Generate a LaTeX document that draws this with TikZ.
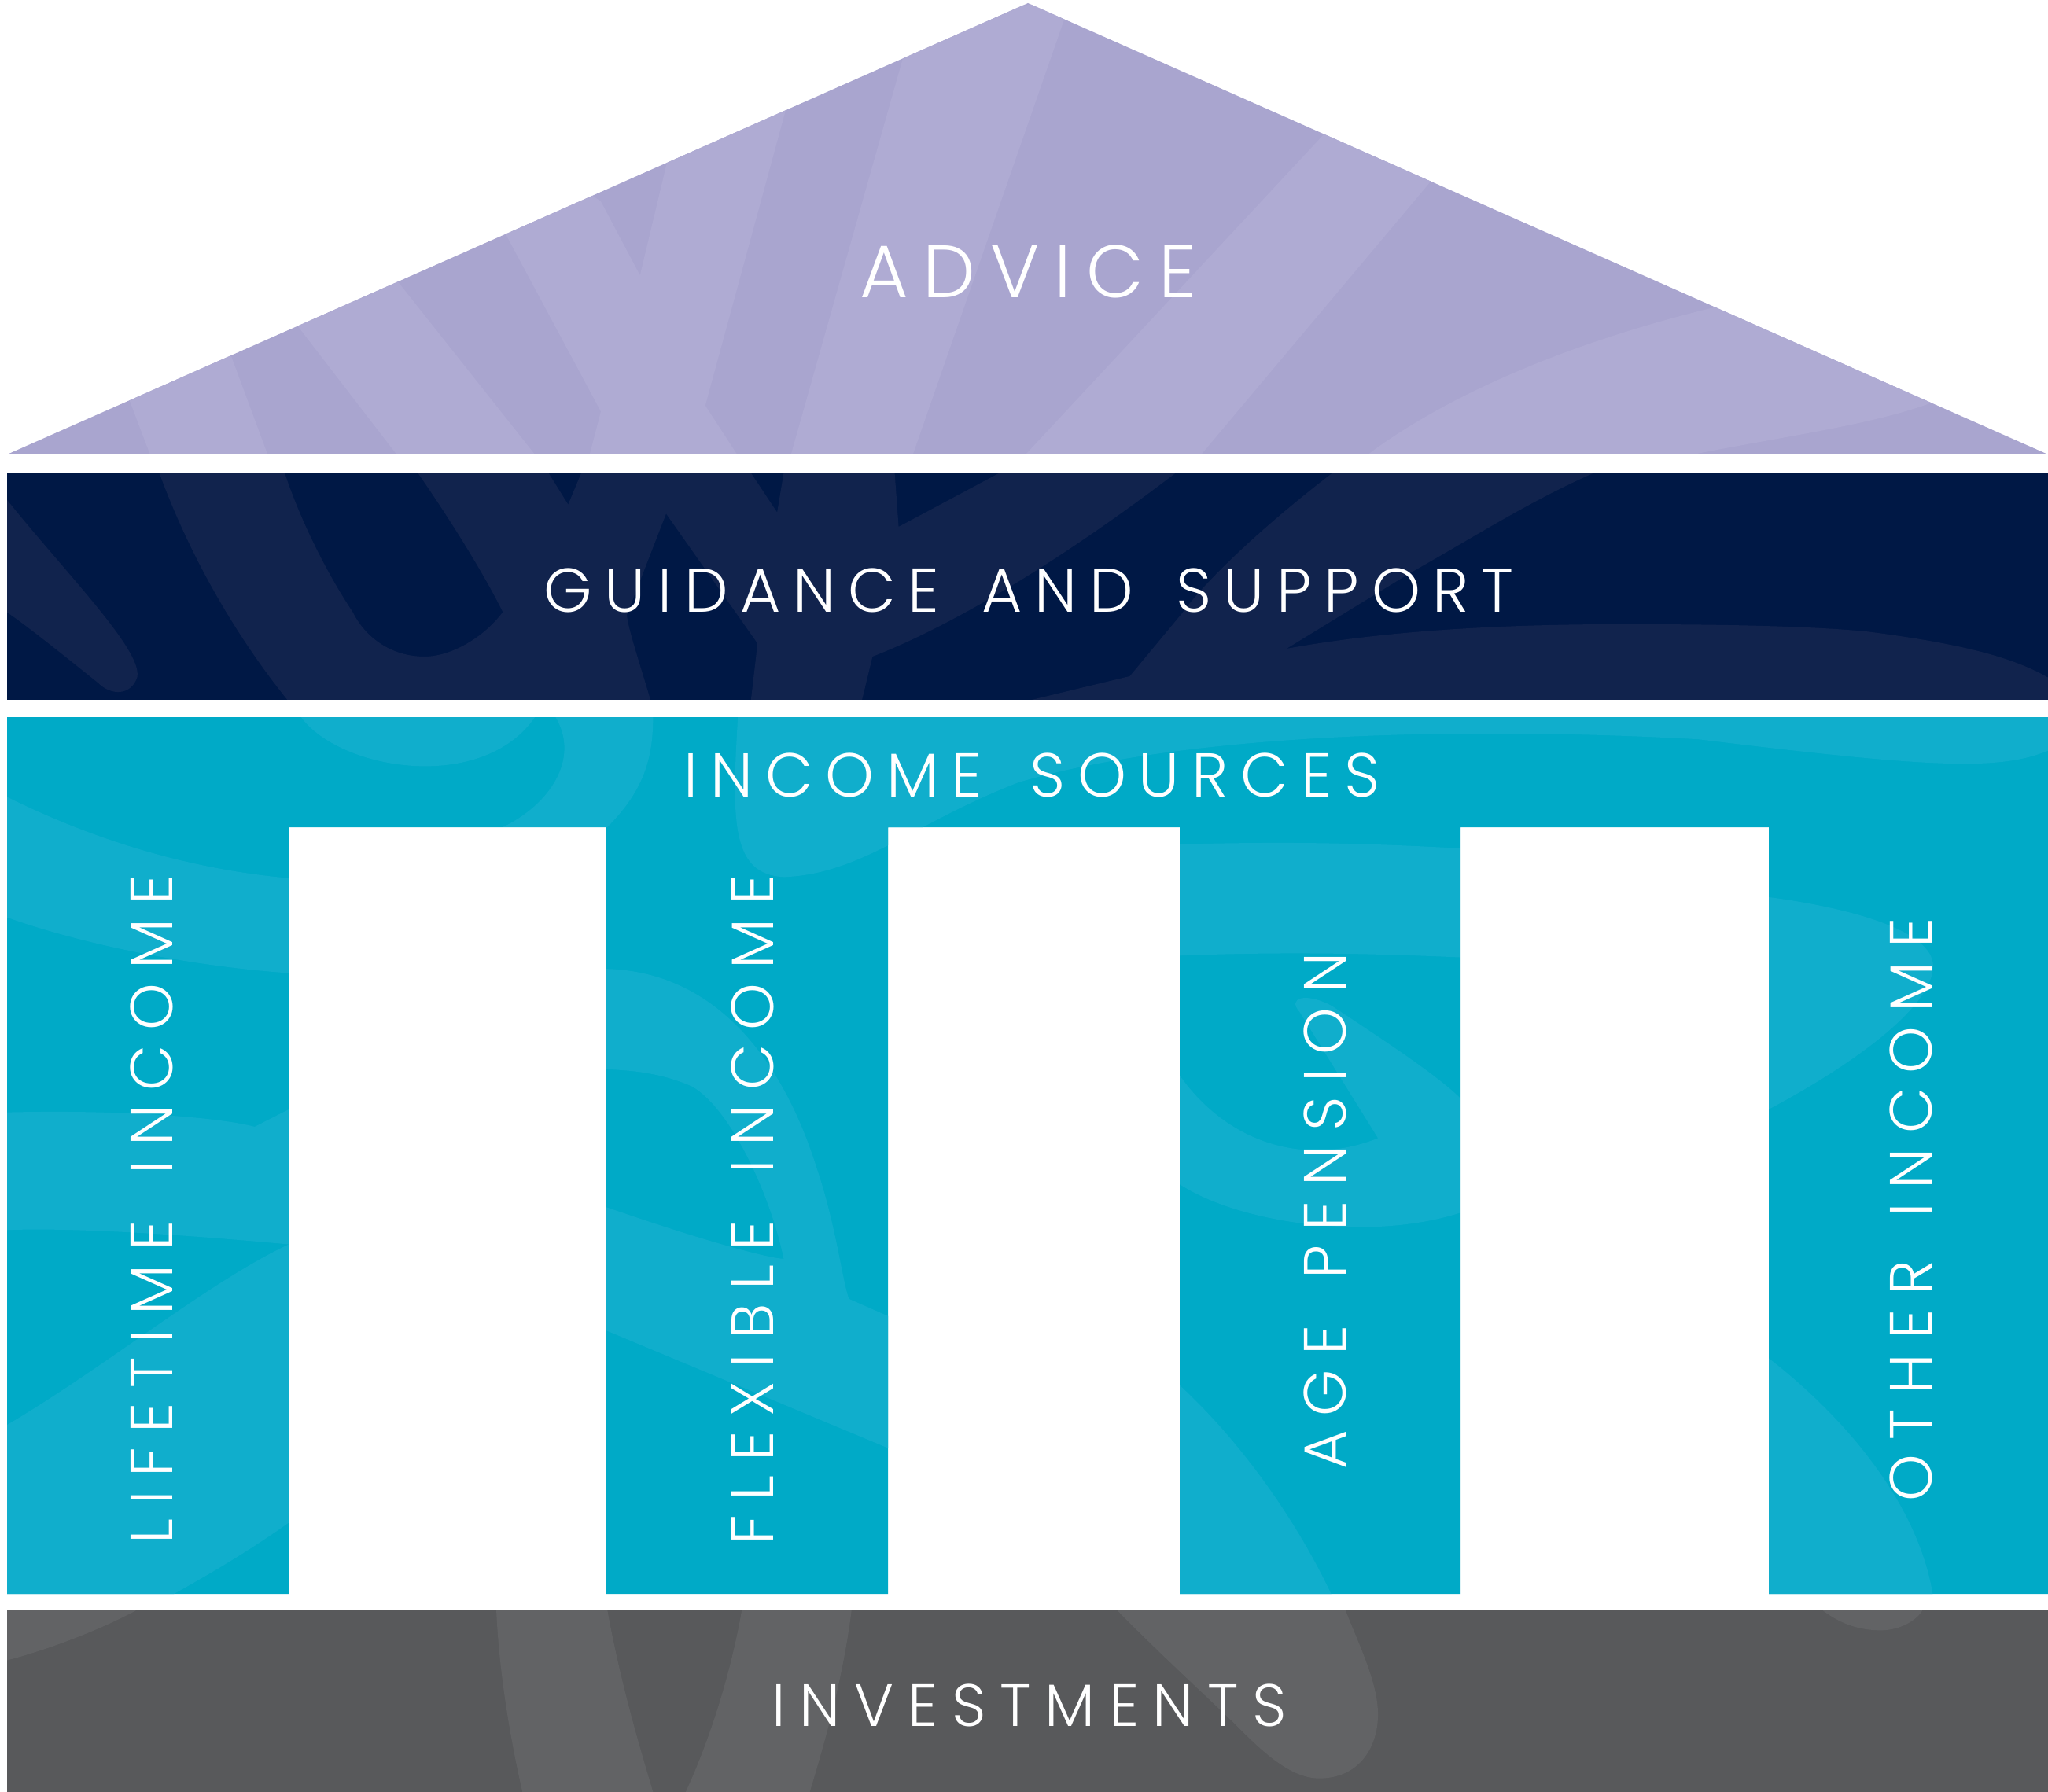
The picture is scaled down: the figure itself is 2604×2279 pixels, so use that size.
\documentclass[tikz,border=0pt]{standalone}
\usepackage{fontspec}
\setmainfont{Poppins Light}
\newfontfamily\bandfont{Poppins Light}[LetterSpace=20]
\newfontfamily\basefont{Poppins Light}[LetterSpace=23.3]
\newfontfamily\pillarfont{Poppins Light}[LetterSpace=24]
\definecolor{roofbase}{HTML}{A9A5CF}
\definecolor{roofhi}{HTML}{AFABD3}
\definecolor{navy}{HTML}{001845}
\definecolor{navyhi}{HTML}{11234D}
\definecolor{teal}{HTML}{00AAC7}
\definecolor{tealhi}{HTML}{10AECC}
\definecolor{stone}{HTML}{58595B}
\definecolor{stonehi}{HTML}{626365}
\begin{document}
\begin{tikzpicture}[x=0.1mm,y=-0.1mm,
  bandtext/.style={text=white,inner sep=0pt,anchor=base,font=\bandfont\fontsize{22.4}{24}\selectfont},
  bigtext/.style={bandtext,font=\bandfont\fontsize{26.9}{28}\selectfont},
  basetext/.style={bandtext,font=\basefont\fontsize{21.6}{23}\selectfont},
  coltext/.style={bandtext,rotate=90,font=\pillarfont\fontsize{21.6}{23}\selectfont}]
\useasboundingbox[fill=white] (0,0) rectangle (2604,2279);

% ---------- roof ----------
\fill[roofbase] (9,578) -- (1307,4) -- (2604,578) -- cycle;
\begin{scope}
  \clip (9,578) -- (1307,4) -- (2604,578) -- cycle;
  \begin{scope}[xscale=1.6607,yscale=0.3765]
    \fill[roofhi] (80,1130) -- (117,1560) -- (207,1560) -- (160,1000) -- cycle;
    \fill[roofhi] (205,970) -- (308,1560) -- (414,1560) -- (290,870) -- cycle;
    \fill[roofhi] (370,650) -- (460,1390) -- (450,1560) -- (568,1560) -- (540,1370)
      -- (606,300) -- (520,380) -- (510,560) -- (490,930) -- (460,680) -- (420,560) -- cycle;
    \fill[roofhi] (700,60) -- (604,1560) -- (697,1560) -- (820,0) -- cycle;
    \fill[roofhi] (1046,300) -- (780,1560) -- (915,1560) -- (1155,300) -- cycle;
    \fill[roofhi] (1330,1020) .. controls (1200,1150) and (1100,1350) .. (1040,1560)
      -- (1270,1560) .. controls (1350,1480) and (1440,1440) .. (1490,1340) -- (1500,1000) -- cycle;
  \end{scope}
\end{scope}

% ---------- guidance band ----------
\fill[navy] (9,602) rectangle (2604,890);
\begin{scope}
  \clip (9,602) rectangle (2604,890);
  \begin{scope}[shift={(0,595)},xscale=1.6607,yscale=0.3333]
    \fill[navyhi] (5,120) .. controls (50,400) and (110,700) .. (105,800)
      .. controls (100,870) and (85,870) .. (75,820) .. controls (50,720) and (20,600) .. (5,550) -- cycle;
    \fill[navyhi] (122,20) .. controls (150,400) and (190,700) .. (220,885) -- (498,885)
      .. controls (490,750) and (480,600) .. (480,560) -- (510,175) -- (580,670) -- (575,885)
      -- (660,885) -- (668,720) .. controls (720,620) and (800,400) .. (900,20) -- (765,20)
      -- (688,225) -- (685,20) -- (600,20) -- (595,170) -- (575,20) -- (445,20) -- (435,140)
      -- (420,20) -- (320,20) .. controls (345,200) and (370,400) .. (385,550)
      .. controls (370,650) and (345,720) .. (325,720) .. controls (300,720) and (280,650) .. (270,550)
      .. controls (250,400) and (230,200) .. (218,20) -- cycle;
    \fill[navyhi] (1020,20) .. controls (960,250) and (920,450) .. (905,555) -- (865,795) -- (790,885)
      -- (1568,885) -- (1568,800) .. controls (1540,720) and (1500,670) .. (1430,625)
      .. controls (1380,600) and (1300,597) .. (1240,597) .. controls (1120,597) and (1040,640) .. (985,690)
      -- (1080,400) .. controls (1130,260) and (1170,130) .. (1220,20) -- cycle;
  \end{scope}
\end{scope}

% ---------- income sources and columns ----------
\def\tealshape{(9,912) -- (2604,912) -- (2604,2027) -- (2249,2027) -- (2249,1052) -- (1857,1052)
  -- (1857,2027) -- (1500,2027) -- (1500,1052) -- (1129,1052) -- (1129,2027) -- (771,2027)
  -- (771,1052) -- (367,1052) -- (367,2027) -- (9,2027) -- cycle}
\fill[teal] \tealshape;
\begin{scope}
  \clip \tealshape;
  \begin{scope}[shift={(0,900)},xscale=1.6607,yscale=0.73]
    \fill[tealhi] (5,155) .. controls (80,240) and (160,290) .. (240,300) -- (240,465)
      .. controls (150,455) and (60,410) .. (5,365) -- cycle;
    \fill[tealhi] (230,15) .. controls (260,110) and (370,150) .. (410,15) -- cycle;
    \fill[tealhi] (425,15) .. controls (445,90) and (420,170) .. (385,208) -- (465,208)
      .. controls (495,140) and (500,80) .. (500,15) -- cycle;
    \fill[tealhi] (565,15) -- (1568,15) -- (1568,75) .. controls (1530,110) and (1480,105) .. (1300,55)
      .. controls (1100,30) and (900,50) .. (780,130) .. controls (700,200) and (660,290) .. (600,295)
      .. controls (560,290) and (560,200) .. (565,15) -- cycle;
    \fill[tealhi] (464,455) .. controls (550,460) and (600,620) .. (625,800)
      .. controls (640,900) and (645,1000) .. (650,1030) -- (680,1060) -- (680,1290)
      -- (464,1085) -- (464,870) .. controls (540,930) and (590,960) .. (600,960)
      .. controls (590,850) and (560,700) .. (530,660) .. controls (510,640) and (490,632) .. (464,630) -- cycle;
    \fill[tealhi] (903,238) .. controls (1000,232) and (1060,238) .. (1118,245) -- (1118,435)
      .. controls (1050,428) and (980,425) .. (903,432) -- cycle;
    \fill[tealhi] (903,640) .. controls (940,760) and (1000,800) .. (1055,750) -- (995,530)
      .. controls (985,505) and (1000,495) .. (1020,520) .. controls (1060,580) and (1100,640) .. (1118,680)
      -- (1118,880) .. controls (1050,930) and (950,900) .. (903,830) -- cycle;
    \fill[tealhi] (903,1180) .. controls (960,1300) and (1000,1450) .. (1020,1548) -- (903,1548) -- cycle;
    \fill[tealhi] (1354,330) .. controls (1420,350) and (1480,390) .. (1480,450)
      .. controls (1480,520) and (1420,620) .. (1354,700) -- cycle;
    \fill[tealhi] (1354,1133) .. controls (1420,1250) and (1470,1400) .. (1480,1548) -- (1354,1548) -- cycle;
    \fill[tealhi] (5,705) .. controls (100,700) and (170,715) .. (195,730) -- (221,700) -- (221,935)
      .. controls (150,920) and (60,905) .. (5,910) -- cycle;
    \fill[tealhi] (5,1250) .. controls (80,1150) and (160,1000) .. (221,935) -- (221,1420)
      .. controls (190,1470) and (160,1510) .. (130,1548) -- (5,1548) -- cycle;
  \end{scope}
\end{scope}

% ---------- investments band ----------
\fill[stone] (9,2048) rectangle (2604,2279);
\begin{scope}
  \clip (9,2048) rectangle (2604,2279);
  \begin{scope}[shift={(0,2040)},xscale=1.6607,yscale=0.3333]
    \fill[stonehi] (5,22) -- (105,22) .. controls (80,90) and (40,170) .. (5,215) -- cycle;
    \fill[stonehi] (380,22) -- (465,22) .. controls (475,300) and (490,550) .. (500,717)
      -- (400,717) .. controls (390,500) and (382,250) .. (380,22) -- cycle;
    \fill[stonehi] (568,22) -- (652,22) .. controls (645,300) and (630,550) .. (620,717)
      -- (525,717) .. controls (545,500) and (560,250) .. (568,22) -- cycle;
    \fill[stonehi] (855,22) .. controls (890,200) and (930,380) .. (950,480)
      .. controls (970,580) and (990,665) .. (1010,665) .. controls (1040,665) and (1055,550) .. (1055,420)
      .. controls (1055,300) and (1040,150) .. (1030,22) -- cycle;
    \fill[stonehi] (1395,22) .. controls (1410,80) and (1425,100) .. (1440,100)
      .. controls (1455,100) and (1468,60) .. (1472,22) -- cycle;
  \end{scope}
\end{scope}

% ---------- labels ----------
\node[bigtext]  (advice)   at (1307,379)  {ADVICE};
\node[bandtext] (guidance) at (1308,778)  {GUIDANCE\hspace{1.7mm} AND\hspace{1.7mm} SUPPORT};
\node[bandtext] (income)   at (1312,1013) {INCOME\hspace{2.3mm} SOURCES};
\node[basetext] (invest)   at (1309,2195) {INVESTMENTS};
\node[coltext] (lifetime) at (219,1538)  {LIFETIME\hspace{2mm} INCOME};
\node[coltext] (flexible) at (983,1538)  {FLEXIBLE\hspace{2mm} INCOME};
\node[coltext] (pension)  at (1711,1540) {AGE\hspace{2mm} PENSION};
\node[coltext] (other)    at (2456,1538) {OTHER\hspace{1.6mm} INCOME};
\end{tikzpicture}
\end{document}
